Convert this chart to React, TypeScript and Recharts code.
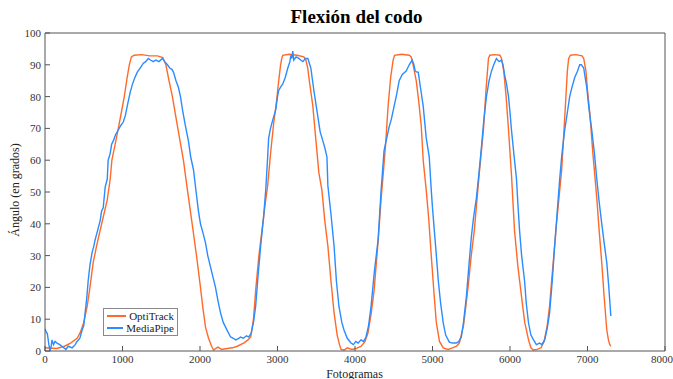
import React from "react";
import { LineChart, Line, XAxis, YAxis } from "recharts";

// OptiTrack (orange) – frame / angle samples
const optiFrames = [
  0, 150, 250, 330, 414, 453, 500, 544, 580, 621, 665, 712, 760, 803, 841, 863, 905, 946, 985, 1023,
  1060, 1088, 1115, 1150, 1250, 1350, 1450, 1520, 1560, 1600, 1644, 1700, 1750, 1786, 1830, 1870, 1910, 1960, 2006, 2040,
  2071, 2110, 2150, 2175, 2230, 2280, 2350, 2420, 2480, 2563, 2620, 2654, 2690, 2718, 2760, 2800, 2840, 2873, 2910, 2951,
  2985, 3016, 3040, 3055, 3068, 3150, 3250, 3340, 3366, 3390, 3405, 3456, 3495, 3534, 3573, 3610, 3650, 3690, 3730, 3770,
  3800, 3820, 3860, 3900, 3960, 4020, 4080, 4130, 4168, 4210, 4246, 4300, 4337, 4362, 4395, 4427, 4460, 4492, 4510, 4600,
  4700, 4725, 4750, 4790, 4820, 4854, 4880, 4919, 4950, 4984, 5020, 5049, 5090, 5139, 5200, 5260, 5310, 5346, 5400, 5430,
  5463, 5500, 5540, 5600, 5657, 5690, 5722, 5740, 5800, 5870, 5890, 5920, 5950, 5981, 6020, 6058, 6100, 6149, 6190, 6239,
  6270, 6300, 6350, 6400, 6440, 6480, 6510, 6537, 6600, 6667, 6710, 6740, 6757, 6780, 6850, 6930, 6951, 6980, 7000, 7029,
  7070, 7120, 7150, 7184, 7215, 7249, 7270, 7288, 7300,
];
const optiAngle = [
  1.0, 0.8, 1.5, 2.5, 4, 5.7, 9, 14, 20, 27.7, 33, 38, 43, 47.5, 54, 60, 65, 70, 75, 80,
  86, 90, 92.5, 93, 93.2, 92.8, 92.8, 92.3, 90, 85, 80, 72, 65, 60, 52, 45, 38, 29, 20, 13,
  7.5, 4, 1.5, 0.3, 1.2, 0.5, 0.8, 1, 1.5, 2.5, 3.5, 4.4, 10, 19, 30, 38, 46, 52, 62, 71.7,
  78, 85, 90, 92, 93, 93.3, 93, 92.5, 91.5, 89, 86, 77, 66.4, 56, 50.6, 41, 33, 22, 12, 5,
  2, 0.5, 0.3, 1, 0.5, 0.8, 1.5, 3, 5.7, 12, 19, 35, 48, 55, 65, 77, 86, 91.5, 93, 93.3,
  93, 92.5, 90, 85, 79, 71, 60, 50.6, 42, 30, 18, 9, 3, 1, 0.5, 1, 1.5, 2.5, 8, 14,
  21, 30, 38, 55, 69.5, 82, 92, 93, 93.2, 93, 92, 88, 80, 69.5, 55, 38, 27, 17, 9, 3.5,
  1, 0.3, 0.5, 1, 3, 8, 14, 22, 40, 57, 75, 88, 92, 93, 93.2, 92.8, 92, 88, 82, 75,
  62, 48, 38, 27.7, 17, 6.6, 3.5, 2, 1.5,
];

// MediaPipe (blue)
const mediaFrames = [
  0, 15, 30, 50, 65, 80, 90, 110, 130, 155, 190, 233, 270, 300, 350, 390, 414, 450, 479, 500,
  518, 540, 557, 580, 608, 630, 647, 680, 712, 730, 751, 777, 803, 815, 840, 860, 880, 910, 945, 980,
  1010, 1036, 1070, 1100, 1130, 1160, 1191, 1230, 1269, 1300, 1333, 1360, 1398, 1430, 1470, 1515, 1545, 1579, 1610, 1640,
  1657, 1690, 1720, 1748, 1780, 1810, 1851, 1880, 1916, 1950, 1980, 2006, 2040, 2071, 2100, 2136, 2170, 2200, 2230, 2265,
  2300, 2330, 2360, 2395, 2430, 2460, 2500, 2524, 2560, 2600, 2628, 2660, 2690, 2718, 2750, 2783, 2820, 2848, 2873, 2886,
  2910, 2938, 2977, 3000, 3016, 3040, 3068, 3100, 3133, 3160, 3172, 3185, 3197, 3210, 3240, 3275, 3300, 3327, 3360, 3392,
  3430, 3469, 3500, 3521, 3550, 3586, 3610, 3638, 3650, 3690, 3730, 3760, 3793, 3830, 3858, 3900, 3948, 3980, 4010, 4040,
  4078, 4110, 4142, 4175, 4207, 4250, 4298, 4337, 4375, 4410, 4440, 4470, 4505, 4540, 4570, 4610, 4660, 4700, 4738, 4760,
  4777, 4800, 4816, 4850, 4880, 4919, 4945, 4958, 4984, 5000, 5023, 5050, 5075, 5105, 5139, 5170, 5217, 5260, 5307, 5340,
  5372, 5400, 5437, 5470, 5502, 5530, 5566, 5600, 5631, 5660, 5696, 5730, 5761, 5790, 5825, 5860, 5890, 5910, 5929, 5955,
  5981, 6000, 6019, 6050, 6084, 6100, 6123, 6150, 6188, 6210, 6239, 6270, 6304, 6340, 6382, 6410, 6447, 6480, 6511, 6545,
  6576, 6610, 6641, 6670, 6706, 6740, 6770, 6800, 6835, 6870, 6900, 6920, 6951, 6970, 6990, 7020, 7055, 7090, 7120, 7150,
  7184, 7215, 7249, 7275, 7301,
];
const mediaAngle = [
  7, 6, 5.5, 2, 0, 1.5, 3.5, 2, 3, 2.5, 2, 1.2, 0.5, 1.5, 1, 2, 3, 4, 6.6, 8,
  12, 17, 22, 27, 31, 33, 35, 38, 41, 44, 45, 51.6, 54, 60, 62, 65, 66, 68, 69.5, 71,
  72, 74, 78, 81.4, 84, 86, 87.7, 89, 90.5, 91, 92, 91.5, 91, 91.5, 91, 92, 91, 90, 89, 88.5,
  87.7, 85, 83, 80, 75, 71, 66, 61, 57, 50, 44, 40, 37, 34, 30, 26.4, 23, 20, 16, 12,
  9, 7.5, 6, 4.4, 4, 3.5, 4, 4.4, 4, 4.8, 4.4, 5.5, 9, 14, 24, 33, 42, 50.6, 61, 67,
  70, 72.6, 75.8, 80, 82, 83, 84, 86, 89, 91, 93, 92, 94.3, 91.5, 92.5, 92, 91.5, 91, 92, 92,
  89, 82, 77, 73.6, 69, 66, 64, 61, 52, 43, 33, 22, 14, 9, 6.6, 4, 2.5, 2, 3, 2.5,
  3.5, 3, 4.4, 8, 14, 25, 35, 50.6, 63, 67, 70.4, 73, 77, 81, 85, 87, 88, 90, 91.5, 90,
  88, 87.7, 87.7, 82, 77, 67, 63, 61, 50.6, 45, 38, 30, 22, 15, 8.8, 5, 2.8, 2.5, 2.5, 3,
  4.4, 9, 17, 27, 36, 42, 48, 56, 64, 72, 80, 85, 88, 90, 92, 91, 91.5, 90, 87, 84,
  80, 75, 69.5, 62, 54, 47, 38, 30, 22, 15, 8.8, 5, 3.5, 2, 2.5, 2, 3.5, 7, 12, 22,
  33, 44, 54, 62, 69.5, 75, 80, 83, 86, 88, 90, 90, 89, 86, 83, 76, 69.5, 62, 54, 47,
  40, 34, 27.7, 20, 11,
];

const xTicks = [0, 1000, 2000, 3000, 4000, 5000, 6000, 7000, 8000];
const yTicks = [0, 10, 20, 30, 40, 50, 60, 70, 80, 90, 100];
const seriesNames = ["OptiTrack", "MediaPipe"];

const optiData = optiFrames.map((frame, i) => ({ frame, angle: optiAngle[i] }));
const mediaData = mediaFrames.map((frame, i) => ({ frame, angle: mediaAngle[i] }));

const ORANGE = "#ff6a2a";
const BLUE = "#2a8cff";
const AXIS = "#555";
const FONT = "'Liberation Serif', 'Times New Roman', serif";
const colors = [ORANGE, BLUE];

const tickStyle = { fontSize: 11, fill: "#333", fontFamily: FONT };

export default function App() {
  return (
    <div style={{ position: "absolute", left: 0, top: 0, width: 673, height: 379, background: "#fff", overflow: "hidden" }}>
      <LineChart width={673} height={379} margin={{ top: 32, right: 7, bottom: 8, left: 5 }}>
        <XAxis
          xAxisId="bottom"
          type="number"
          dataKey="frame"
          domain={[0, 8000]}
          ticks={xTicks}
          allowDataOverflow
          height={20}
          stroke={AXIS}
          tickSize={-5}
          tickMargin={9}
          tick={tickStyle}
        />
        <XAxis
          xAxisId="top"
          orientation="top"
          type="number"
          dataKey="frame"
          domain={[0, 8000]}
          ticks={xTicks}
          height={1}
          stroke={AXIS}
          tickSize={-5}
          tickFormatter={() => ""}
        />
        <YAxis
          yAxisId="left"
          type="number"
          domain={[0, 100]}
          ticks={yTicks}
          width={40}
          stroke={AXIS}
          tickSize={-5}
          tickMargin={9}
          tick={tickStyle}
        />
        <YAxis
          yAxisId="right"
          orientation="right"
          type="number"
          domain={[0, 100]}
          ticks={yTicks}
          width={1}
          stroke={AXIS}
          tickSize={-5}
          tickFormatter={() => ""}
        />
        <Line
          xAxisId="bottom"
          yAxisId="left"
          data={optiData}
          dataKey="angle"
          name="OptiTrack"
          stroke={ORANGE}
          strokeWidth={1.4}
          dot={false}
          type="linear"
          isAnimationActive={false}
        />
        <Line
          xAxisId="bottom"
          yAxisId="left"
          data={mediaData}
          dataKey="angle"
          name="MediaPipe"
          stroke={BLUE}
          strokeWidth={1.4}
          dot={false}
          type="linear"
          isAnimationActive={false}
        />
      </LineChart>
      <div
        style={{
          position: "absolute",
          left: 0,
          width: 673,
          top: 6,
          textAlign: "center",
          fontFamily: FONT,
          fontWeight: "bold",
          fontSize: 19,
          paddingLeft: 40,
          boxSizing: "border-box",
        }}
      >
        Flexión del codo
      </div>
      <div
        style={{
          position: "absolute",
          left: 15,
          top: 190,
          transform: "translate(-50%, -50%) rotate(-90deg)",
          whiteSpace: "nowrap",
          fontFamily: FONT,
          fontSize: 12,
          color: "#222",
        }}
      >
        Ángulo (en grados)
      </div>
      <div
        style={{
          position: "absolute",
          left: 0,
          width: 673,
          top: 367,
          textAlign: "center",
          fontFamily: FONT,
          fontSize: 12,
          color: "#222",
          paddingLeft: 36,
          boxSizing: "border-box",
        }}
      >
        Fotogramas
      </div>
      <div
        style={{
          position: "absolute",
          left: 103,
          top: 308,
          width: 75,
          boxSizing: "border-box",
          border: "1px solid #8a8a8a",
          background: "#fff",
          padding: "1px 3px",
          fontFamily: FONT,
          fontSize: 11,
          color: "#222",
          lineHeight: "12px",
        }}
      >
        {seriesNames.map((name, i) => (
          <div key={name} style={{ display: "flex", alignItems: "center" }}>
            <span
              style={{ display: "inline-block", width: 20, height: 0, borderTop: `2px solid ${colors[i]}`, marginRight: 3 }}
            />
            {name}
          </div>
        ))}
      </div>
    </div>
  );
}
